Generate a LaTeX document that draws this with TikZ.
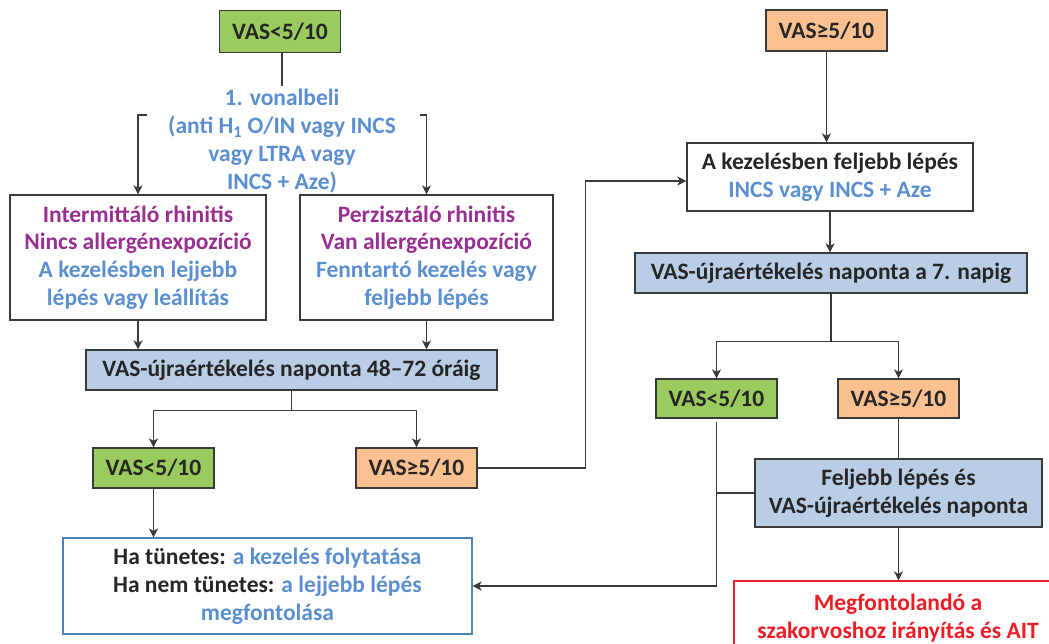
\documentclass[tikz,border=0pt]{standalone}
\usepackage{fontspec}
\setmainfont{Carlito}
\usetikzlibrary{arrows.meta}
\definecolor{vgreen}{HTML}{9BCB5F}
\definecolor{vorange}{HTML}{FAC08F}
\definecolor{vblue}{HTML}{B9CDE5}
\definecolor{tblue}{HTML}{5A8FD2}
\definecolor{tpurple}{HTML}{9A2F92}
\definecolor{tred}{HTML}{EE1C25}
\definecolor{lgray}{HTML}{3A3A3A}
\definecolor{fblue}{HTML}{4F81BD}
\definecolor{tdark}{HTML}{262626}
\tikzset{
  bx/.style 2 args={draw=lgray, line width=1.3pt, minimum width=#1, minimum height=#2},
  conn/.style={draw=lgray, line width=1.4pt},
  arr/.style={conn, -{Stealth[length=9pt,width=9pt,inset=2.5pt]}},
}
\begin{document}
\begin{tikzpicture}[x=1pt,y=-1pt,
  every node/.style={font=\fontsize{23.5}{27.8}\selectfont\bfseries, text=tdark, align=center, inner sep=0pt}]
\useasboundingbox (0,0) rectangle (1049,643);
\clip (0,0) rectangle (1049,643);

% ---------- left column ----------
\node[bx={121}{42}, fill=vgreen] (g1) at (280,31.5) {VAS<5/10};
\node[text=tblue, inner sep=3pt] (t1) at (282,141) {1. vonalbeli\\(anti H\textsubscript{1} O/IN vagy INCS\\vagy LTRA vagy\\INCS + Aze)};
\coordinate (bl) at (147,115);
\coordinate (br) at (420,115);

\node[bx={256}{125}] (b1) at (138,257.5) {\textcolor{tpurple}{Intermittáló rhinitis}\\\textcolor{tpurple}{Nincs allergénexpozíció}\\\textcolor{tblue}{A kezelésben lejjebb}\\\textcolor{tblue}{lépés vagy leállítás}};
\node[bx={253}{125}] (b2) at (426.5,257.5) {\textcolor{tpurple}{Perzisztáló rhinitis}\\\textcolor{tpurple}{Van allergénexpozíció}\\\textcolor{tblue}{Fenntartó kezelés vagy}\\\textcolor{tblue}{feljebb lépés}};

\node[bx={411}{40}, fill=vblue] (r1) at (291.5,370) {VAS-újraértékelés naponta 48–72 óráig};

\node[bx={121}{40}, fill=vgreen] (g2) at (153.5,468) {VAS<5/10};
\node[bx={121}{40}, fill=vorange] (o2) at (416.5,468) {VAS≥5/10};

\node[draw=fblue, line width=1.1pt, minimum width=409, minimum height=96] (f) at (267.5,586)
  {Ha tünetes: \textcolor{tblue}{a kezelés folytatása}\\Ha nem tünetes: \textcolor{tblue}{a lejjebb lépés}\\\textcolor{tblue}{megfontolása}};

% ---------- right column ----------
\node[bx={121}{41}, fill=vorange] (o1) at (826.5,30.5) {VAS≥5/10};
\node[bx={286}{68}] (k1) at (830,177) {A kezelésben feljebb lépés\\\textcolor{tblue}{INCS vagy INCS + Aze}};
\node[bx={392}{40}, fill=vblue] (r2) at (831,273) {VAS-újraértékelés naponta a 7. napig};

\node[bx={121}{39}, fill=vgreen] (g3) at (716.5,398.5) {VAS<5/10};
\node[bx={121}{39}, fill=vorange] (o3) at (898.5,398.5) {VAS≥5/10};

\node[bx={287}{68}, fill=vblue] (r3) at (898.5,493) {Feljebb lépés és\\VAS-újraértékelés naponta};

\node[draw=tred, line width=1.3pt, minimum width=328, minimum height=74, text=tred] (m) at (898,618)
  {Megfontolandó a\\szakorvoshoz irányítás és AIT};

% ---------- connectors ----------
\draw[conn] (g1.south -| t1.north) -- (t1.north);
\draw[arr] (bl) -| (b1.north);
\draw[arr] (br) -| (b2.north);
\draw[arr] (b1.south) -- (b1.south |- r1.north);
\draw[arr] (b2.south) -- (b2.south |- r1.north);
\draw[arr] (r1.south) -- ++(0,20) -| (g2.north);
\draw[arr] (r1.south) -- ++(0,20) -| (o2.north);
\draw[arr] (g2.south) -- (g2.south |- f.north);
\draw[arr] (o2.east) -- ++(108,0) |- ([yshift=-4pt]k1.west);

\draw[arr] (o1.south) -- (o1.south |- k1.north);
\draw[arr] (k1.south) -- (k1.south |- r2.north);
\draw[arr] (r2.south) -- ++(0,48) -| (g3.north);
\draw[arr] (r2.south) -- ++(0,48) -| (o3.north);
\draw[conn] (o3.south) -- (r3.north);
\draw[arr] ([yshift=-3pt]g3.south) |- (f.east);
\draw[conn] (r3.west) -- (r3.west -| g3.south);
\draw[arr] (r3.south) -- (r3.south |- m.north);
\end{tikzpicture}
\end{document}
